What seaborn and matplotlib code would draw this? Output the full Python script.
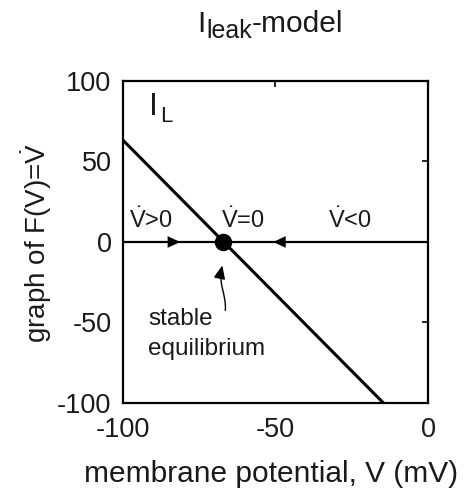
import matplotlib
matplotlib.use("Agg")
import matplotlib.pyplot as plt
import seaborn as sns
import pandas as pd
from matplotlib.path import Path
from matplotlib.patches import FancyArrowPatch

# data
V_line = [-100.0, -66.9, -14.6]
F_line = [63.4, 0.0, -100.0]
V_eq = [-67.2]
F_eq = [0.0]
V_axis = [-100.0, 0.0]
F_axis = [0.0, 0.0]
arrow_right_tip = -81.2
arrow_left_tip = -50.7
x_ticks = [-100, -50, 0]
y_ticks = [-100, -50, 0, 50, 100]
region_labels = [r"$\dot{\mathrm{V}}$>0", r"$\dot{\mathrm{V}}$=0", r"$\dot{\mathrm{V}}$<0"]
region_x = [-90.7, -60.8, -25.5]

sns.set_theme(style="white")
plt.rcParams['font.family'] = ['Liberation Sans', 'DejaVu Sans']
plt.rcParams['mathtext.fontset'] = 'custom'
plt.rcParams['mathtext.rm'] = 'Liberation Sans'
plt.rcParams['mathtext.it'] = 'Liberation Sans'
plt.rcParams['mathtext.bf'] = 'Liberation Sans'
plt.rcParams['axes.unicode_minus'] = False

TXT = "#1a1a1a"

fig = plt.figure(figsize=(4.67, 4.92), dpi=100)
ax = fig.add_axes([0.2628, 0.1809, 0.6537, 0.6545])

df_line = pd.DataFrame({"V": V_line, "F": F_line})
df_axis = pd.DataFrame({"V": V_axis, "F": F_axis})
sns.lineplot(data=df_axis, x="V", y="F", ax=ax, color="black", lw=1.6, zorder=2)
sns.lineplot(data=df_line, x="V", y="F", ax=ax, color="black", lw=2.2, zorder=3)
sns.scatterplot(x=V_eq, y=F_eq, ax=ax, color="black", s=135, zorder=4, edgecolor="black")

# direction arrows on V axis
ax.annotate("", xy=(arrow_right_tip, 0), xytext=(arrow_right_tip - 4.0, 0),
            arrowprops=dict(arrowstyle="-|>,head_length=0.9,head_width=0.42",
                            mutation_scale=10, color="black", lw=0, shrinkA=0, shrinkB=0))
ax.annotate("", xy=(arrow_left_tip, 0), xytext=(arrow_left_tip + 4.0, 0),
            arrowprops=dict(arrowstyle="-|>,head_length=0.9,head_width=0.42",
                            mutation_scale=10, color="black", lw=0, shrinkA=0, shrinkB=0))

ax.set_xlim(-100, 0)
ax.set_ylim(-100, 100)
ax.set_xticks(x_ticks)
ax.set_yticks(y_ticks)
ax.tick_params(axis="both", direction="in", length=4, width=1.2, labelsize=19.5,
               top=True, right=True, colors="black")
ax.tick_params(axis="x", pad=10)
ax.tick_params(axis="y", pad=8)
ax.tick_params(axis="both", labelcolor=TXT)
for s in ax.spines.values():
    s.set_color("black")
    s.set_linewidth(1.6)
    s.set_visible(True)

ax.set_xlabel("membrane potential, V (mV)", fontsize=21.5, color=TXT)
ax.xaxis.set_label_coords(0.487, -0.178)
ax.set_ylabel(r"graph of F(V)=$\dot{\mathrm{V}}$", fontsize=20, color=TXT)
ax.yaxis.set_label_coords(-0.225, 0.498)

# title: I_leak-model with large subscript
t1 = fig.text(197 / 467, 1 - 32 / 492, "I", fontsize=21.5, color=TXT, ha="left", va="baseline")
t2 = fig.text(0, 0, "leak", fontsize=18, color=TXT, ha="left", va="baseline")
t3 = fig.text(0, 0, "-model", fontsize=21.5, color=TXT, ha="left", va="baseline")
fig.canvas.draw()
r = fig.canvas.get_renderer()
b1 = t1.get_window_extent(r)
t2.set_position(((b1.x1 + 1) / fig.bbox.width, (1 - 38 / 492)))
b2 = t2.get_window_extent(r)
t3.set_position(((b2.x1) / fig.bbox.width, 1 - 32 / 492))

# I_L label
tI = ax.text(-91.3, 100 - (115 - 81) / 1.61, "I", fontsize=23, color=TXT, ha="left", va="baseline")
fig.canvas.draw()
bI = tI.get_window_extent(r)
fig.text((bI.x1 + 1.5) / fig.bbox.width, 1 - 122 / 492, "L", fontsize=16, color=TXT,
         ha="left", va="baseline")

for lab, xv in zip(region_labels, region_x):
    ax.text(xv, 8.7, lab, fontsize=17, ha="center", va="baseline", color=TXT)

ax.text(-91.7, -51.6, "stable", fontsize=17.5, ha="left", va="baseline", color=TXT)
ax.text(-91.7, -70.2, "equilibrium", fontsize=17.5, ha="left", va="baseline", color=TXT)

curve = Path([(-66.4, -42.5), (-66.0, -32.0), (-68.8, -27.0), (-67.4, -14.6)],
             [Path.MOVETO, Path.CURVE4, Path.CURVE4, Path.CURVE4])
arr = FancyArrowPatch(path=curve, arrowstyle="-|>,head_length=0.8,head_width=0.35",
                      mutation_scale=10, color="black", lw=1.0)
ax.add_patch(arr)

fig.savefig("out.png", dpi=100)
